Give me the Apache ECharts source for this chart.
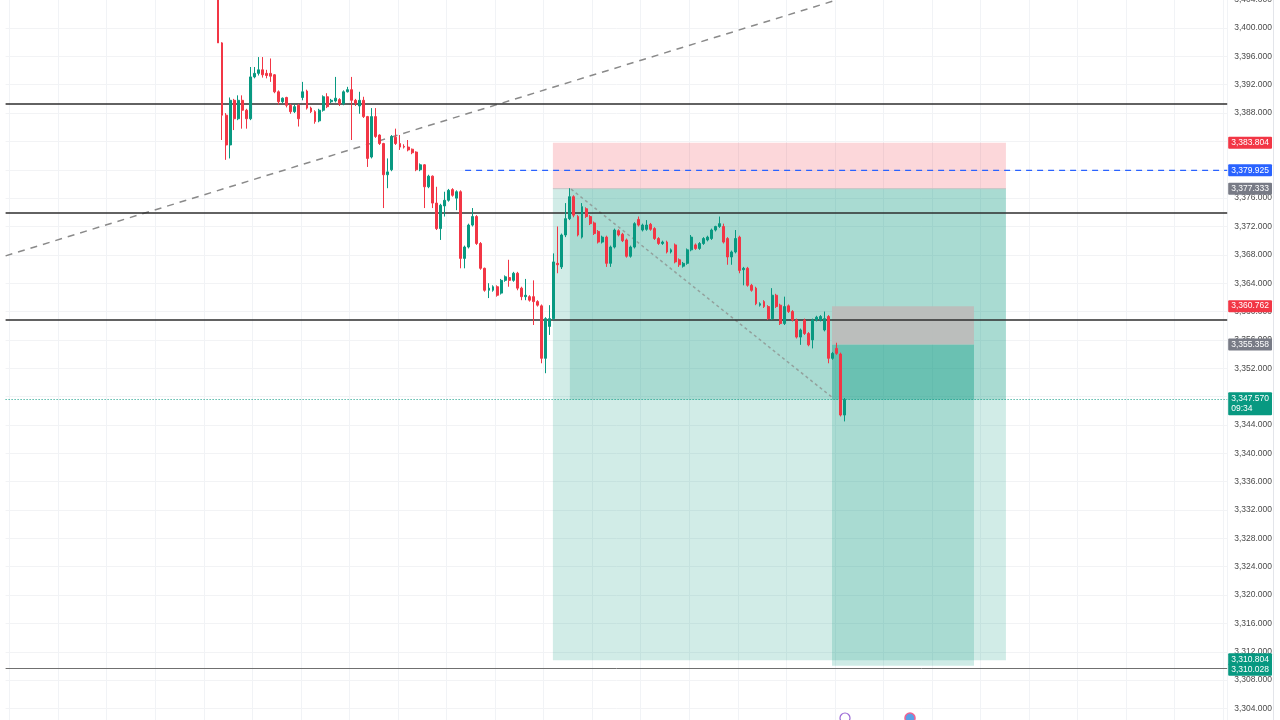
<!DOCTYPE html>
<html>
<head>
<meta charset="utf-8">
<style>
  html, body { margin: 0; padding: 0; background: #fff; }
  #chart { width: 1280px; height: 720px; }
</style>
<script src="https://cdn.jsdelivr.net/npm/echarts@6/dist/echarts.min.js"></script>
</head>
<body>
<div id="chart"></div>
<script>
// 5m candles, [open, close, low, high]
const candles = [
  [3410.0, 3397.9, 3397.9, 3411.0], [3397.9, 3387.7, 3384.2, 3398.0], [3387.7, 3383.5, 3381.4, 3388.0],
  [3383.5, 3389.8, 3381.6, 3390.2], [3389.8, 3387.2, 3385.6, 3390.0], [3387.2, 3389.8, 3387.0, 3390.5],
  [3389.8, 3388.4, 3385.8, 3390.5], [3388.4, 3387.2, 3385.8, 3388.6], [3387.2, 3393.1, 3387.0, 3394.5],
  [3393.1, 3393.6, 3392.9, 3394.5], [3393.6, 3394.1, 3393.3, 3395.9], [3394.1, 3393.4, 3393.0, 3395.9],
  [3393.6, 3393.3, 3392.9, 3394.1], [3393.6, 3393.2, 3392.4, 3395.7], [3393.4, 3391.0, 3390.8, 3393.5],
  [3391.0, 3389.6, 3389.2, 3391.2], [3389.6, 3390.1, 3389.4, 3390.2], [3390.2, 3389.1, 3388.8, 3390.3],
  [3389.1, 3388.2, 3387.9, 3389.3], [3388.2, 3388.9, 3388.0, 3389.2], [3389.1, 3387.2, 3386.1, 3389.3],
  [3390.2, 3391.0, 3389.8, 3392.4], [3391.1, 3388.7, 3388.5, 3391.3], [3388.7, 3388.2, 3388.0, 3388.9],
  [3388.2, 3386.8, 3386.5, 3388.4], [3386.9, 3388.4, 3386.7, 3388.6], [3388.4, 3390.3, 3388.2, 3390.5],
  [3390.3, 3388.9, 3388.7, 3390.8], [3389.6, 3389.8, 3389.4, 3390.0], [3389.7, 3390.1, 3389.5, 3393.1],
  [3389.9, 3389.3, 3389.0, 3390.1], [3389.3, 3391.0, 3389.1, 3391.2], [3391.0, 3391.3, 3390.9, 3391.7],
  [3391.3, 3389.8, 3384.2, 3393.1], [3389.8, 3389.4, 3389.0, 3390.0], [3389.0, 3389.8, 3387.9, 3391.0],
  [3389.8, 3387.5, 3387.3, 3390.3], [3387.5, 3381.6, 3380.4, 3387.6], [3381.8, 3387.5, 3381.6, 3388.7],
  [3387.5, 3384.7, 3384.5, 3388.7], [3384.9, 3383.7, 3383.5, 3385.0], [3383.7, 3379.3, 3374.6, 3383.8],
  [3379.3, 3379.7, 3377.4, 3381.6], [3380.0, 3384.7, 3379.8, 3384.9], [3384.6, 3383.7, 3383.5, 3385.8],
  [3383.7, 3383.2, 3382.8, 3384.9], [3383.3, 3383.2, 3383.0, 3383.6], [3383.2, 3382.8, 3382.6, 3384.2],
  [3382.9, 3382.4, 3382.2, 3383.0], [3382.5, 3380.0, 3379.8, 3382.6], [3380.0, 3380.7, 3379.8, 3380.9],
  [3380.7, 3377.6, 3374.6, 3380.8], [3377.6, 3379.1, 3377.4, 3379.3], [3379.1, 3375.3, 3374.6, 3379.2],
  [3375.3, 3371.7, 3371.5, 3377.6], [3371.7, 3375.0, 3370.1, 3375.2], [3374.9, 3375.7, 3373.4, 3376.9],
  [3375.7, 3377.1, 3375.5, 3377.3], [3377.2, 3376.4, 3376.2, 3377.4], [3376.0, 3376.9, 3374.3, 3377.1],
  [3376.9, 3367.5, 3366.1, 3377.1], [3367.5, 3369.1, 3366.1, 3369.3], [3369.1, 3372.2, 3368.9, 3372.4],
  [3372.2, 3373.4, 3372.0, 3374.6], [3373.4, 3369.6, 3369.4, 3373.6], [3369.6, 3366.1, 3365.9, 3369.8],
  [3366.1, 3363.0, 3362.8, 3366.2], [3363.0, 3363.3, 3361.9, 3364.0], [3363.0, 3363.5, 3362.8, 3363.7],
  [3363.5, 3362.3, 3362.1, 3363.7], [3362.6, 3364.4, 3362.4, 3364.6], [3364.4, 3364.9, 3364.2, 3365.1],
  [3364.8, 3364.4, 3363.5, 3367.3], [3364.4, 3365.4, 3364.2, 3365.6], [3365.4, 3363.3, 3363.0, 3365.6],
  [3363.3, 3362.1, 3361.6, 3363.5], [3362.1, 3362.3, 3361.6, 3364.6], [3362.1, 3361.6, 3361.4, 3362.3],
  [3362.1, 3361.4, 3358.1, 3364.4], [3361.4, 3360.9, 3360.7, 3361.6], [3360.8, 3353.4, 3352.7, 3361.0],
  [3353.4, 3359.0, 3351.3, 3359.2], [3357.9, 3359.0, 3356.7, 3360.9], [3359.0, 3367.0, 3358.8, 3368.2],
  [3366.8, 3366.6, 3365.4, 3372.0], [3366.3, 3370.8, 3366.0, 3371.0], [3370.8, 3373.1, 3370.5, 3375.3],
  [3373.1, 3376.2, 3372.9, 3377.4], [3376.2, 3373.6, 3373.3, 3376.4], [3373.4, 3370.8, 3370.6, 3373.6],
  [3370.5, 3374.8, 3370.3, 3375.3], [3374.5, 3373.4, 3373.2, 3374.7], [3373.4, 3372.4, 3372.2, 3373.6],
  [3372.5, 3371.0, 3370.8, 3372.7], [3371.3, 3369.8, 3369.6, 3371.5], [3369.8, 3370.5, 3369.6, 3370.7],
  [3370.5, 3366.8, 3366.3, 3370.7], [3366.8, 3369.1, 3366.3, 3369.3], [3369.1, 3371.5, 3368.9, 3371.7],
  [3371.4, 3370.8, 3370.6, 3371.6], [3370.9, 3370.0, 3369.8, 3371.1], [3370.1, 3367.8, 3367.6, 3370.3],
  [3367.8, 3369.1, 3367.6, 3369.3], [3369.1, 3372.4, 3368.9, 3372.6], [3373.0, 3372.2, 3372.0, 3373.4],
  [3371.5, 3372.2, 3371.3, 3372.4], [3371.6, 3372.2, 3371.4, 3372.9], [3372.3, 3371.6, 3371.4, 3372.5],
  [3371.7, 3370.3, 3370.1, 3371.9], [3370.3, 3369.6, 3369.4, 3370.5], [3369.6, 3369.8, 3369.4, 3370.0],
  [3369.8, 3368.4, 3368.2, 3370.0], [3368.4, 3368.7, 3368.2, 3368.9], [3369.4, 3367.0, 3366.8, 3369.6],
  [3367.3, 3366.6, 3366.3, 3367.5], [3366.4, 3366.8, 3366.2, 3367.0], [3366.8, 3368.7, 3366.6, 3368.9],
  [3368.7, 3370.5, 3368.5, 3370.8], [3369.4, 3368.9, 3368.7, 3369.6], [3368.9, 3369.6, 3368.7, 3369.8],
  [3369.6, 3370.3, 3369.4, 3370.5], [3370.1, 3370.5, 3369.9, 3370.7], [3370.3, 3371.5, 3370.1, 3371.7],
  [3371.5, 3372.0, 3371.3, 3372.1], [3372.0, 3372.4, 3371.8, 3373.4], [3372.0, 3369.8, 3369.6, 3372.4],
  [3370.3, 3367.7, 3366.6, 3370.5], [3367.7, 3368.4, 3366.6, 3368.6], [3368.4, 3370.3, 3368.2, 3371.5],
  [3370.5, 3365.8, 3365.4, 3370.7], [3365.9, 3366.1, 3363.7, 3366.3], [3366.1, 3363.7, 3363.5, 3366.3],
  [3363.7, 3363.0, 3362.8, 3363.9], [3363.3, 3361.1, 3360.9, 3363.5], [3360.9, 3361.1, 3360.7, 3361.3],
  [3361.4, 3360.7, 3360.5, 3361.6], [3360.7, 3359.0, 3358.8, 3360.9], [3359.0, 3362.3, 3358.8, 3363.3],
  [3362.3, 3360.7, 3360.5, 3362.5], [3360.9, 3358.3, 3358.1, 3361.1], [3358.3, 3360.7, 3358.1, 3362.1],
  [3360.8, 3360.0, 3359.8, 3361.0], [3360.0, 3358.8, 3358.6, 3360.2], [3358.8, 3356.4, 3356.2, 3359.0],
  [3356.4, 3357.4, 3355.3, 3357.6], [3358.8, 3356.9, 3356.7, 3359.0], [3356.9, 3355.3, 3355.1, 3357.1],
  [3356.0, 3358.8, 3354.8, 3359.0], [3358.8, 3359.2, 3358.6, 3359.4], [3358.8, 3359.3, 3358.6, 3359.5],
  [3357.4, 3359.0, 3357.2, 3360.0], [3359.3, 3353.4, 3352.7, 3359.5], [3353.4, 3354.1, 3353.2, 3354.3],
  [3354.8, 3354.1, 3353.9, 3355.6], [3354.0, 3345.4, 3345.2, 3354.2], [3345.4, 3347.57, 3344.5, 3347.8]
];

// empty bars before the first candle and total bar slots on screen
const leadSlots = 52;
const totalSlots = 302;

// drawn levels
const levels = [3389.3, 3374.0, 3358.8];
const lowLevel = 3309.66;
const lastPrice = 3347.57;
const countdown = '09:34';
const alertPrice = 3379.925;
const alertFrom = 113.1;

// short positions (bar index from/to, prices)
const posA = { from: 134.8, to: 246.8, fillFrom: 139.0, stop: 3383.804, entry: 3377.333, target: 3310.804 };
const posB = { from: 203.8, to: 238.9, fillFrom: 203.8, stop: 3360.762, entry: 3355.358, target: 3310.028 };

// trend lines [bar index, price]
const trendUp = [[-0.5, 3367.85], [204.8, 3403.93]];
const trendDown = [[139.3, 3377.27], [204.05, 3347.8]];

const UP = '#089981', DOWN = '#f23645', BLUE = '#2962ff', GREY = '#787b86';

function fmt(v) {
  const parts = v.toFixed(3).split('.');
  return parts[0].replace(/\B(?=(\d{3})+(?!\d))/g, ',') + '.' + parts[1];
}

const slots = Array.from({ length: totalSlots }, (_, i) => String(i));
const candleData = Array(leadSlots).fill('-').concat(candles);

// zones: [x0, x1, yTop, yBottom]
const zones = [
  [posA.from, posA.to, posA.entry, posA.target],
  [posA.fillFrom, posA.to, posA.entry, lastPrice],
  [posB.from, posB.to, posB.entry, posB.target],
  [posB.fillFrom, posB.to, posB.entry, lastPrice],
  [posA.from, posA.to, posA.stop, posA.entry],
  [posB.from, posB.to, posB.stop, posB.entry]
];
const zoneFill = [
  'rgba(8,153,129,0.19)', 'rgba(8,153,129,0.2)', 'rgba(8,153,129,0.2)',
  'rgba(8,153,129,0.24)', 'rgba(242,54,69,0.2)', 'rgba(188,189,187,0.95)'
];

function tag(color, text, extra) {
  return Object.assign({
    show: true, position: 'end', distance: 1, formatter: text,
    backgroundColor: color, color: '#fff', padding: [2, 3, 1, 3],
    fontSize: 8.5, fontFamily: 'Liberation Sans', borderRadius: 1
  }, extra || {});
}
const hidden = { color: 'rgba(0,0,0,0)', width: 0 };

const chart = echarts.init(document.getElementById('chart'));
chart.setOption({
  animation: false,
  backgroundColor: '#ffffff',
  grid: { left: 5.6, right: 52.8, top: -0.35, bottom: -16.85, containLabel: false, outerBoundsMode: 'none' },
  xAxis: [
    {
      type: 'category', data: slots, boundaryGap: true,
      axisLine: { show: false }, axisTick: { show: false }, axisLabel: { show: false },
      splitLine: { show: true, interval: (i) => i % 12 === 1, lineStyle: { color: '#f1f3f6', width: 1 } }
    },
    { type: 'value', min: -0.5, max: totalSlots - 0.5, show: false }
  ],
  yAxis: {
    type: 'value', position: 'right', min: 3300, max: 3404, interval: 4,
    axisLine: { show: false }, axisTick: { show: false },
    axisLabel: { formatter: fmt, color: '#4a4a4a', fontSize: 8.5, margin: 7, fontFamily: 'Liberation Sans' },
    splitLine: { lineStyle: { color: '#f2f3f5', width: 1 } }
  },
  series: [
    {
      type: 'custom', xAxisIndex: 1, z: 1, silent: true,
      data: zones,
      encode: { x: [0, 1], y: [2, 3] },
      renderItem: (params, api) => {
        const a = api.coord([api.value(0), api.value(2)]);
        const b = api.coord([api.value(1), api.value(3)]);
        return {
          type: 'rect',
          shape: { x: a[0], y: a[1], width: b[0] - a[0], height: b[1] - a[1] },
          style: { fill: zoneFill[params.dataIndex] }
        };
      }
    },
    {
      type: 'line', xAxisIndex: 1, z: 2, silent: true, symbol: 'none',
      data: [[posA.from, posA.entry], [posA.to, posA.entry]],
      lineStyle: { color: '#c4c4c4', width: 1 }
    },
    {
      type: 'line', xAxisIndex: 1, z: 3, silent: true, symbol: 'none',
      data: trendUp,
      lineStyle: { color: '#8a8a8a', width: 1.5, type: [7, 6] }
    },
    {
      type: 'line', xAxisIndex: 1, z: 3, silent: true, symbol: 'none',
      data: trendDown,
      lineStyle: { color: '#93a19d', width: 1.5, type: [3, 3] }
    },
    {
      type: 'line', xAxisIndex: 1, z: 3, silent: true, symbol: 'none',
      data: [[alertFrom, alertPrice], [totalSlots - 0.5, alertPrice]],
      lineStyle: { color: BLUE, width: 1.2, type: [6, 5] }
    },
    {
      type: 'candlestick', xAxisIndex: 0, z: 5,
      data: candleData, barWidth: 2.4,
      itemStyle: { color: UP, color0: DOWN, borderColor: UP, borderColor0: DOWN, borderWidth: 1 },
      markLine: {
        symbol: 'none', silent: true, animation: false,
        data: [
          { yAxis: levels[0], lineStyle: { color: '#2e2e2e', width: 1.6, type: 'solid' }, label: { show: false } },
          { yAxis: levels[1], lineStyle: { color: '#2e2e2e', width: 1.6, type: 'solid' }, label: { show: false } },
          { yAxis: levels[2], lineStyle: { color: '#2e2e2e', width: 1.6, type: 'solid' }, label: { show: false } },
          { yAxis: lowLevel, lineStyle: { color: '#707070', width: 1, type: 'solid' }, label: { show: false } },
          { yAxis: lastPrice, lineStyle: { color: UP, width: 1, type: [1, 2] },
            label: tag(UP, fmt(lastPrice) + '\n' + countdown, { lineHeight: 10, offset: [0, 4] }) },
          { yAxis: posA.stop, lineStyle: hidden, label: tag(DOWN, fmt(posA.stop)) },
          { yAxis: alertPrice, lineStyle: hidden, label: tag(BLUE, fmt(alertPrice)) },
          { yAxis: posA.entry, lineStyle: hidden, label: tag(GREY, fmt(posA.entry)) },
          { yAxis: posB.stop, lineStyle: hidden, label: tag(DOWN, fmt(posB.stop)) },
          { yAxis: posB.entry, lineStyle: hidden, label: tag(GREY, fmt(posB.entry)) },
          { yAxis: posA.target, lineStyle: hidden, label: tag(UP, fmt(posA.target), { offset: [0, -1] }) },
          { yAxis: posB.target, lineStyle: hidden, label: tag(UP, fmt(posB.target), { offset: [0, 4] }) }
        ]
      }
    }
  ],
  graphic: [
    { type: 'line', z: 10, shape: { x1: 1273.5, y1: 0, x2: 1273.5, y2: 720 }, style: { stroke: '#e3e5ea', lineWidth: 1 } },
    { type: 'circle', z: 10, shape: { cx: 845, cy: 718, r: 5 }, style: { fill: '#fff', stroke: '#9c6bd6', lineWidth: 1.2 } },
    { type: 'circle', z: 10, shape: { cx: 910, cy: 718, r: 5 }, style: { fill: '#5aa0e6', stroke: '#f06292', lineWidth: 1.5 } }
  ]
});
</script>
</body>
</html>
